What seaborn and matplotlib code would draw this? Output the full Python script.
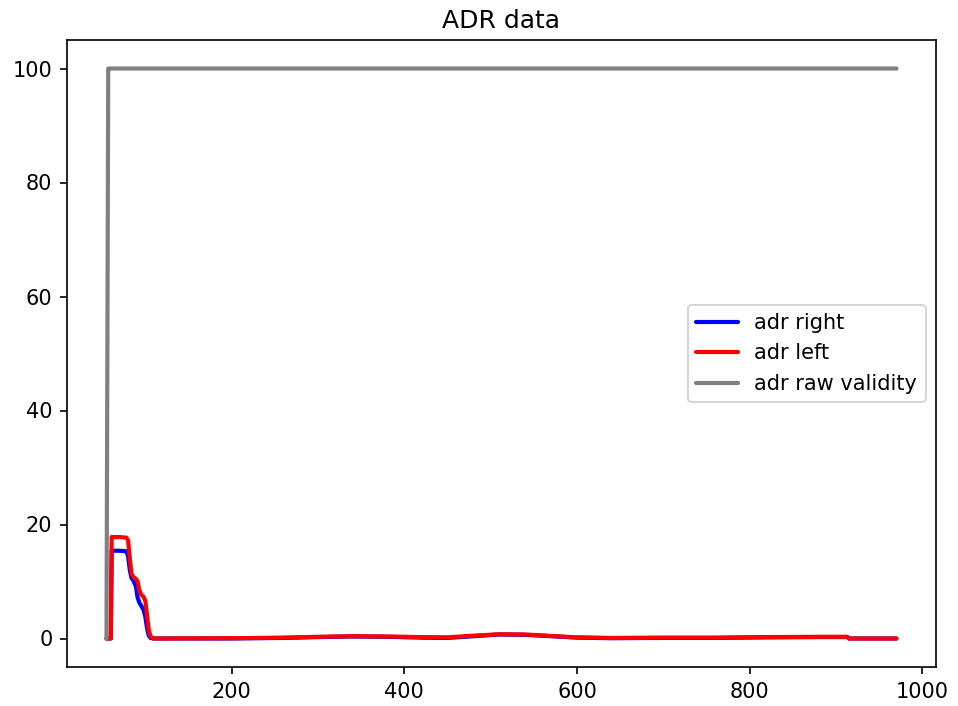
import numpy as np
import pandas as pd
import matplotlib
matplotlib.use("Agg")
import matplotlib.pyplot as plt
import seaborn as sns

frames = [55, 57, 60, 61, 70, 78, 80, 82, 84, 86, 89, 91, 93, 95, 98, 100, 102, 104, 106, 109,
          120, 200, 260, 300, 340, 380, 420, 450, 480, 510, 540, 570, 600, 640, 700, 760, 820,
          880, 913, 915, 970]
adr_right = [0, 0, 0, 15.4, 15.4, 15.3, 14.5, 12.0, 10.6, 10.2, 9.2, 7.2, 6.3, 5.8, 5.0, 3.8,
             1.8, 0.5, 0.1, 0, 0, 0.0, 0.1, 0.25, 0.35, 0.3, 0.15, 0.1, 0.4, 0.7, 0.65, 0.4,
             0.15, 0.05, 0.1, 0.1, 0.2, 0.25, 0.25, 0, 0]
adr_left = [0, 0, 0, 17.8, 17.8, 17.7, 17.2, 14.0, 11.4, 10.8, 10.5, 10.0, 8.5, 7.7, 7.3, 6.6,
            4.0, 1.5, 0.4, 0, 0, 0.05, 0.15, 0.3, 0.4, 0.35, 0.25, 0.2, 0.5, 0.75, 0.7, 0.45,
            0.2, 0.1, 0.15, 0.15, 0.25, 0.3, 0.3, 0, 0]
adr_validity = [0] + [100] * (len(frames) - 1)

series_names = ["adr right", "adr left", "adr raw validity"]
colors = {"adr right": "blue", "adr left": "red", "adr raw validity": "gray"}

df = pd.concat([
    pd.DataFrame({"frame": frames, "value": adr_right, "series": "adr right"}),
    pd.DataFrame({"frame": frames, "value": adr_left, "series": "adr left"}),
    pd.DataFrame({"frame": frames, "value": adr_validity, "series": "adr raw validity"}),
])

sns.set_style("ticks")
plt.rcParams['font.family'] = ['DejaVu Sans']
plt.rcParams.update({"text.color": "black", "axes.labelcolor": "black",
                     "xtick.color": "black", "ytick.color": "black",
                     "axes.edgecolor": "black"})

fig = plt.figure(figsize=(958 / 150, 706 / 150), dpi=150)
ax = fig.add_axes([67 / 958, 39 / 706, (936 - 67) / 958, (667 - 40) / 706])

sns.lineplot(data=df, x="frame", y="value", hue="series", hue_order=series_names,
             palette=colors, linewidth=2, ax=ax, sort=False, estimator=None)

ax.set_title("ADR data", fontsize=12, color="black")
ax.set_xlabel("")
ax.set_ylabel("")
ax.tick_params(labelsize=10, colors="black")
for s in ax.spines.values():
    s.set_visible(True)
    s.set_color("black")
ax.legend(loc="center right", fontsize=10)

fig.savefig("out.png", dpi=150)
